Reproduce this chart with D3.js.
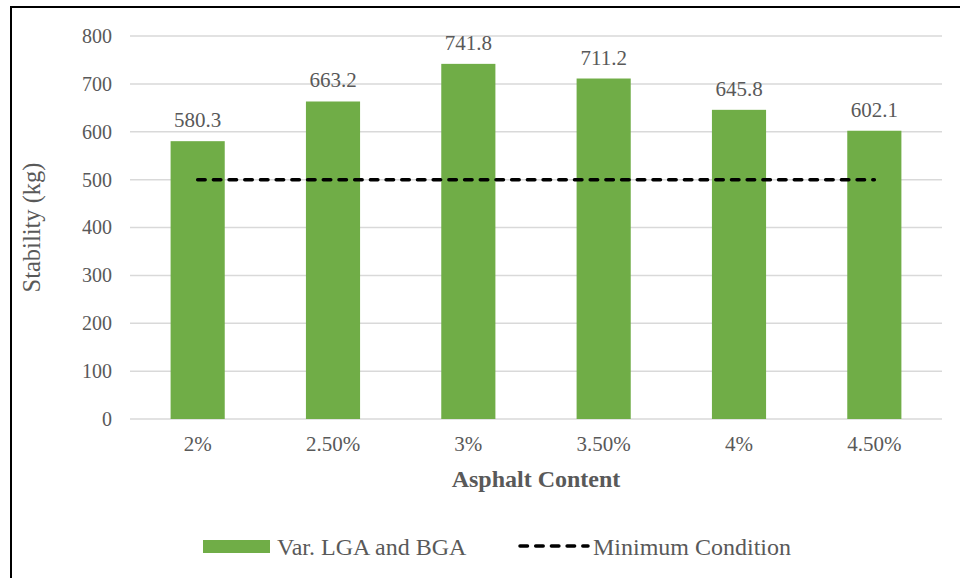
<!DOCTYPE html>
<html>
<head>
<meta charset="utf-8">
<script src="https://cdn.jsdelivr.net/npm/d3@7"></script>
<style>
  html, body { margin: 0; padding: 0; background: #fff; }
  svg { display: block; }
  svg text { font-family: "Liberation Serif", "Tinos", "Times New Roman", serif; fill: #595959; }
</style>
</head>
<body>
<script>
// Marshall stability per asphalt content
const categories = ["2%", "2.50%", "3%", "3.50%", "4%", "4.50%"];
const stability = [580.3, 663.2, 741.8, 711.2, 645.8, 602.1];
const minimumCondition = [500, 500, 500, 500, 500, 500];
const yTicks = [0, 100, 200, 300, 400, 500, 600, 700, 800];
const seriesNames = ["Var. LGA and BGA", "Minimum Condition"];

const W = 960, H = 578;
const plot = { left: 130, right: 942, top: 36, bottom: 419 };
const SERIF = '"Liberation Serif", "Tinos", "Times New Roman", serif';

const svg = d3.select("body").append("svg").attr("width", W).attr("height", H)
  .attr("font-family", SERIF);

// outer chart frame
svg.append("rect")
  .attr("x", 11).attr("y", 7).attr("width", 960).attr("height", 600)
  .attr("fill", "none").attr("stroke", "#000").attr("stroke-width", 2);

const x = d3.scaleBand().domain(categories).range([plot.left, plot.right])
  .paddingInner(0.6).paddingOuter(0.3);
const xc = d => x(d) + x.bandwidth() / 2;
const y = d3.scaleLinear().domain([0, 800]).range([plot.bottom, plot.top]);

// horizontal gridlines
svg.append("g").selectAll("line").data(yTicks).join("line")
  .attr("x1", plot.left).attr("x2", plot.right)
  .attr("y1", d => y(d)).attr("y2", d => y(d))
  .attr("stroke", "#D9D9D9").attr("stroke-width", 1.5);

// y axis labels
const yAxis = svg.append("g").attr("transform", `translate(${plot.left - 12},0)`)
  .call(d3.axisLeft(y).tickValues(yTicks).tickSize(0).tickPadding(6).tickFormat(d3.format("d")));
yAxis.attr("font-family", SERIF).attr("font-size", 20);
yAxis.select(".domain").remove();
yAxis.selectAll("text").attr("fill", "#595959");

// x axis labels
const xAxis = svg.append("g").attr("transform", `translate(0,${plot.bottom})`)
  .call(d3.axisBottom(x).tickSize(0).tickPadding(17));
xAxis.attr("font-family", SERIF).attr("font-size", 21);
xAxis.select(".domain").remove();
xAxis.selectAll("text").attr("fill", "#595959");

// bars
svg.append("g").selectAll("rect").data(categories).join("rect")
  .attr("x", d => x(d)).attr("width", x.bandwidth())
  .attr("y", (d, i) => y(stability[i]))
  .attr("height", (d, i) => y(0) - y(stability[i]))
  .attr("fill", "#70AD47");

// value labels
svg.append("g").selectAll("text").data(categories).join("text")
  .attr("x", d => xc(d)).attr("y", (d, i) => y(stability[i]) - 14)
  .attr("text-anchor", "middle").attr("font-size", 21)
  .text((d, i) => stability[i].toFixed(1));

// minimum condition line
const line = d3.line().x(d => xc(d[0])).y(d => y(d[1]));
svg.append("path")
  .datum(categories.map((c, i) => [c, minimumCondition[i]]))
  .attr("d", line).attr("fill", "none")
  .attr("stroke", "#000").attr("stroke-width", 3.5)
  .attr("stroke-linecap", "round").attr("stroke-dasharray", "7.5,8.2");

// axis titles
svg.append("text")
  .attr("transform", `translate(40,${(plot.top + plot.bottom) / 2}) rotate(-90)`)
  .attr("text-anchor", "middle").attr("font-size", 24.5)
  .text("Stability (kg)");
svg.append("text")
  .attr("x", (plot.left + plot.right) / 2).attr("y", 487)
  .attr("text-anchor", "middle").attr("font-size", 24).attr("font-weight", "bold")
  .text("Asphalt Content");

// legend
const lg = svg.append("g");
lg.append("rect").attr("x", 203).attr("y", 540).attr("width", 67).attr("height", 13)
  .attr("fill", "#70AD47");
lg.append("text").attr("x", 277).attr("y", 555).attr("font-size", 24).text(seriesNames[0]);
lg.append("line").attr("x1", 520).attr("x2", 588).attr("y1", 546).attr("y2", 546)
  .attr("stroke", "#000").attr("stroke-width", 3.5)
  .attr("stroke-linecap", "round").attr("stroke-dasharray", "7.5,8.2");
lg.append("text").attr("x", 593).attr("y", 555).attr("font-size", 24).text(seriesNames[1]);
</script>
</body>
</html>
